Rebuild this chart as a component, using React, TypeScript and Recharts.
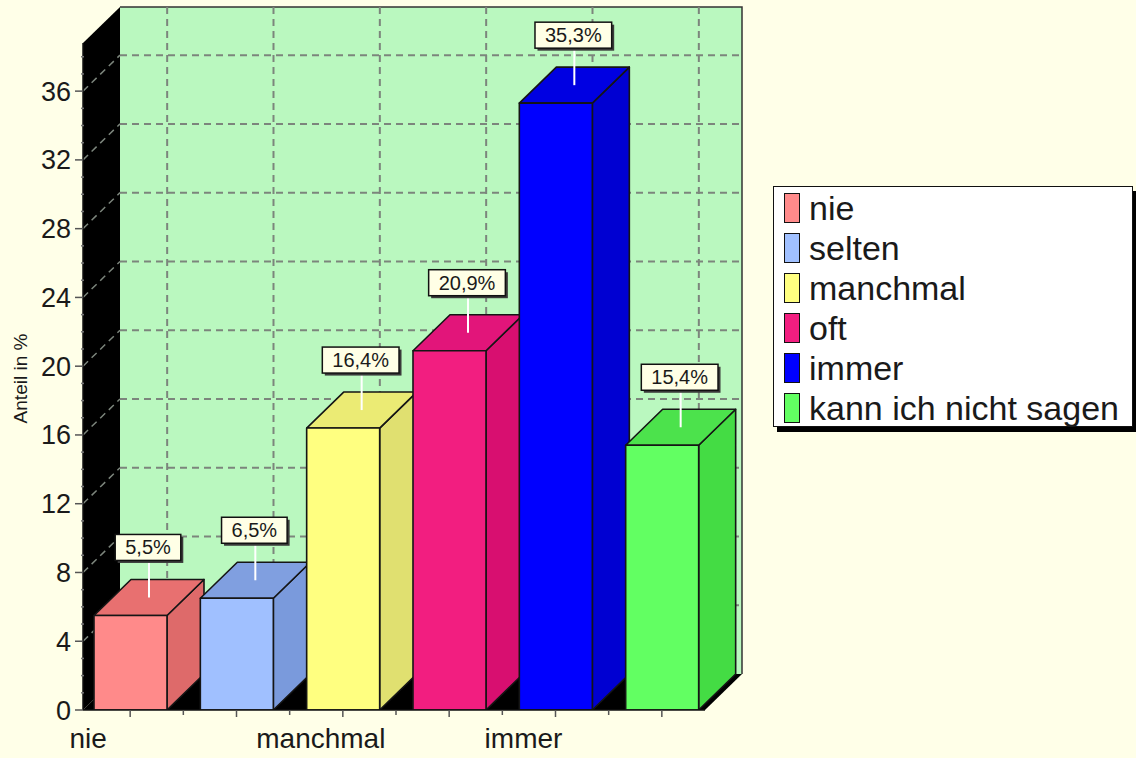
import React from 'react';
import { BarChart, Bar, XAxis, YAxis, CartesianGrid, Legend, LabelList } from 'recharts';

// ---------- data ----------
const CATEGORIES = ['nie', 'selten', 'manchmal', 'oft', 'immer', 'kann ich nicht sagen'];
const VALUES = [5.5, 6.5, 16.4, 20.9, 35.3, 15.4];
const X_TICK_LABELS = ['nie', '', 'manchmal', '', 'immer', ''];
const Y_TICKS = [0, 1, 2, 3, 4, 5, 6, 7, 8, 9, 10, 11, 12, 13, 14, 15, 16, 17, 18, 19, 20, 21, 22, 23, 24, 25, 26, 27, 28, 29, 30, 31, 32, 33, 34, 35, 36, 37, 38];
const Y_LABEL_STEP = 4;
const Y_MAX = 38.8;
const Y_TITLE = 'Anteil in %';

// ---------- styles ----------
const FRONT = ['#FF8A8A', '#A0C0FF', '#FFFF80', '#F21E80', '#0000FF', '#62FF62'];
const TOP = ['#E87070', '#809FE0', '#EBEB74', '#E2157A', '#0000E2', '#4CE24C'];
const SIDE = ['#DE6A6A', '#7A9ADC', '#E0E070', '#D80F70', '#0000D2', '#44DC44'];

const FONT = '"Liberation Sans", Arial, Helvetica, sans-serif';
const W = 1136;
const H = 758;
const PLOT_L = 83;
const PLOT_T = 43;
const PLOT_R = 705;
const PLOT_B = 710;
const PAD_L = -6;
const PAD_R = -10;
const DX = 37;
const DY = 36;
const BAND = (PLOT_R - PLOT_L - PAD_L - PAD_R) / CATEGORIES.length;
const X_LABEL_DX = [-42, 0, -22, 0, -32, 0];
const PAGE_BG = '#FFFFE8';
const WALL_BG = '#BAF8BF';
const GRID = '#7C857C';

const data = CATEGORIES.map((name, i) => ({ name, value: VALUES[i] }));

const charW: Record<string, number> = { ',': 0.278, '%': 0.889 };
const textWidth = (s: string, fs: number) =>
  s.split('').reduce((a, c) => a + (charW[c] ?? 0.556), 0) * fs;

const renderHLine = (p: any) => {
  const { x1, x2, y1, index } = p;
  const parts: React.ReactNode[] = [];
  if (index === 0) {
    parts.push(
      <rect key="back" x={x1 + DX} y={PLOT_T - DY} width={x2 - x1} height={y1 - PLOT_T} fill={WALL_BG} />,
      <polyline key="bord" points={`${x1 + DX},${PLOT_T - DY} ${x2 + DX},${PLOT_T - DY} ${x2 + DX},${y1 - DY}`} fill="none" stroke="#333" strokeWidth={1.5} />,
      <polygon key="left" points={`${x1},${y1} ${x1},${PLOT_T} ${x1 + DX},${PLOT_T - DY} ${x1 + DX},${y1 - DY}`} fill="#000" />,
      <polygon key="floor" points={`${x1},${y1} ${x2},${y1} ${x2 + DX},${y1 - DY} ${x1 + DX},${y1 - DY}`} fill="#000" />
    );
  } else if (index % Y_LABEL_STEP === 0) {
    parts.push(
      <line key="b" x1={x1 + DX} y1={y1 - DY} x2={x2 + DX} y2={y1 - DY} stroke={GRID} strokeWidth={2} strokeDasharray="7 5" />,
      <line key="d" x1={x1} y1={y1} x2={x1 + DX} y2={y1 - DY} stroke={GRID} strokeWidth={1.5} strokeDasharray="7 5" />
    );
  }
  return <g key={p.key ?? `h-${index}`}>{parts}</g>;
};

const renderVLine = (p: any) => {
  const { x1, y1, y2, index } = p;
  return (
    <line key={p.key ?? `v-${index}`} x1={x1 + DX} y1={y1 - DY} x2={x1 + DX} y2={y2 - DY} stroke={GRID} strokeWidth={2} strokeDasharray="7 5" />
  );
};

const renderBox = (p: any) => {
  const { x, y, width, height, index } = p;
  const r = x + width;
  const b = y + height;
  const st = { stroke: '#151515', strokeWidth: 1.6, strokeLinejoin: 'round' as const };
  return (
    <g>
      <polygon points={`${r},${y} ${r + DX},${y - DY} ${r + DX},${b - DY} ${r},${b}`} fill={SIDE[index]} {...st} />
      <polygon points={`${x},${y} ${x + DX},${y - DY} ${r + DX},${y - DY} ${r},${y}`} fill={TOP[index]} {...st} />
      <rect x={x} y={y} width={width} height={height} fill={FRONT[index]} {...st} />
    </g>
  );
};

const renderValueLabel = (p: any) => {
  const { x, y, width, value } = p;
  const txt = `${Number(value).toFixed(1).replace('.', ',')}%`;
  const fs = 20;
  const bw = textWidth(txt, fs) + 20;
  const bh = 26;
  const cx = x + width / 2 + DX / 2;
  const cy = y - DY / 2;
  const top = cy - 37 - bh;
  const left = cx - bw / 2 - 1;
  return (
    <g>
      <line x1={cx} y1={top + bh} x2={cx} y2={cy} stroke="#FFFFFF" strokeWidth={2} />
      <rect x={left + 2.5} y={top + 2.5} width={bw} height={bh} fill="#3a3a3a" />
      <rect x={left} y={top} width={bw} height={bh} fill="#FFFFE6" stroke="#111" strokeWidth={1.5} />
      <text x={left + bw / 2} y={top + 20} textAnchor="middle" fontSize={fs} fontFamily={FONT} fill="#1a1a1a">
        {txt}
      </text>
    </g>
  );
};

const YTick = (p: any) => {
  const { x, y, payload } = p;
  const v = payload.value;
  if (v % Y_LABEL_STEP === 0) {
    return (
      <g>
        <line x1={x - 8} y1={y} x2={x} y2={y} stroke="#555" strokeWidth={1.5} />
        <text x={x - 12} y={y + 9.5} textAnchor="end" fontSize={27} fontFamily={FONT} fill="#1a1a1a">
          {v}
        </text>
      </g>
    );
  }
  return <line x1={x - 2} y1={y} x2={x + 1} y2={y} stroke="#777" strokeWidth={1.5} />;
};

const XTick = (p: any) => {
  const { x, y, index } = p;
  const label = X_TICK_LABELS[index];
  return (
    <g>
      <line x1={x} y1={y} x2={x} y2={y + 7} stroke="#555" strokeWidth={1.5} />
      {index < CATEGORIES.length - 1 && (
        <line x1={x + BAND / 2} y1={y} x2={x + BAND / 2} y2={y + 5} stroke="#555" strokeWidth={1.5} />
      )}
      {label && (
        <text x={x + X_LABEL_DX[index]} y={y + 38} textAnchor="middle" fontSize={28} fontFamily={FONT} fill="#1a1a1a">
          {label}
        </text>
      )}
    </g>
  );
};

const renderYTitle = (p: any) => {
  const vb = p.viewBox || { x: 23, y: PLOT_T, width: 60, height: PLOT_B - PLOT_T };
  const cx = vb.x - 3;
  const cy = vb.y + vb.height / 2 + 2;
  return (
    <text x={cx} y={cy} transform={`rotate(-90, ${cx}, ${cy})`} textAnchor="middle" dominantBaseline="central" fontSize={19} fontFamily={FONT} fill="#1a1a1a">
      {Y_TITLE}
    </text>
  );
};

const renderLegend = () => (
  <div
    style={{
      width: 360,
      height: 241,
      boxSizing: 'border-box',
      background: '#FFFFFF',
      border: '1.5px solid #111',
      boxShadow: '4px 5px 0 #000',
      paddingTop: 1,
      paddingLeft: 10,
      fontFamily: FONT,
      fontSize: 34,
      color: '#1a1a1a',
    }}
  >
    {CATEGORIES.map((c, i) => (
      <div key={c} style={{ height: 40, lineHeight: '40px', display: 'flex', alignItems: 'center', whiteSpace: 'nowrap' }}>
        <span
          style={{
            display: 'inline-block',
            width: 16,
            height: 30,
            boxSizing: 'border-box',
            background: FRONT[i],
            border: '1.5px solid #111',
            marginRight: 9,
            flex: 'none',
          }}
        />
        <span>{c}</span>
      </div>
    ))}
  </div>
);

export default function App() {
  return (
    <div style={{ position: 'absolute', left: 0, top: 0, width: W, height: H, background: PAGE_BG, overflow: 'hidden' }}>
      <BarChart width={W} height={H} data={data} margin={{ top: PLOT_T, right: W - PLOT_R, bottom: H - PLOT_B - 40, left: PLOT_L - 60 }}>
        <CartesianGrid syncWithTicks horizontal={renderHLine} vertical={renderVLine} stroke={GRID} />
        <XAxis
          dataKey="name"
          height={40}
          interval={0}
          padding={{ left: PAD_L, right: PAD_R }}
          tickSize={0}
          tickMargin={0}
          tickLine={false}
          axisLine={{ stroke: '#111', strokeWidth: 1.5 }}
          tick={XTick}
        />
        <YAxis
          type="number"
          width={60}
          domain={[0, Y_MAX]}
          ticks={Y_TICKS}
          interval={0}
          allowDataOverflow
          tickSize={0}
          tickMargin={0}
          tickLine={false}
          axisLine={{ stroke: '#111', strokeWidth: 1.5 }}
          tick={YTick}
          label={renderYTitle}
        />
        <Legend
          layout="vertical"
          align="center"
          verticalAlign="middle"
          content={renderLegend}
          wrapperStyle={{ left: 773, top: 186, width: 360, height: 241 }}
        />
        <Bar dataKey="value" barSize={73} shape={renderBox} isAnimationActive={false}>
          <LabelList dataKey="value" content={renderValueLabel} />
        </Bar>
      </BarChart>
    </div>
  );
}
